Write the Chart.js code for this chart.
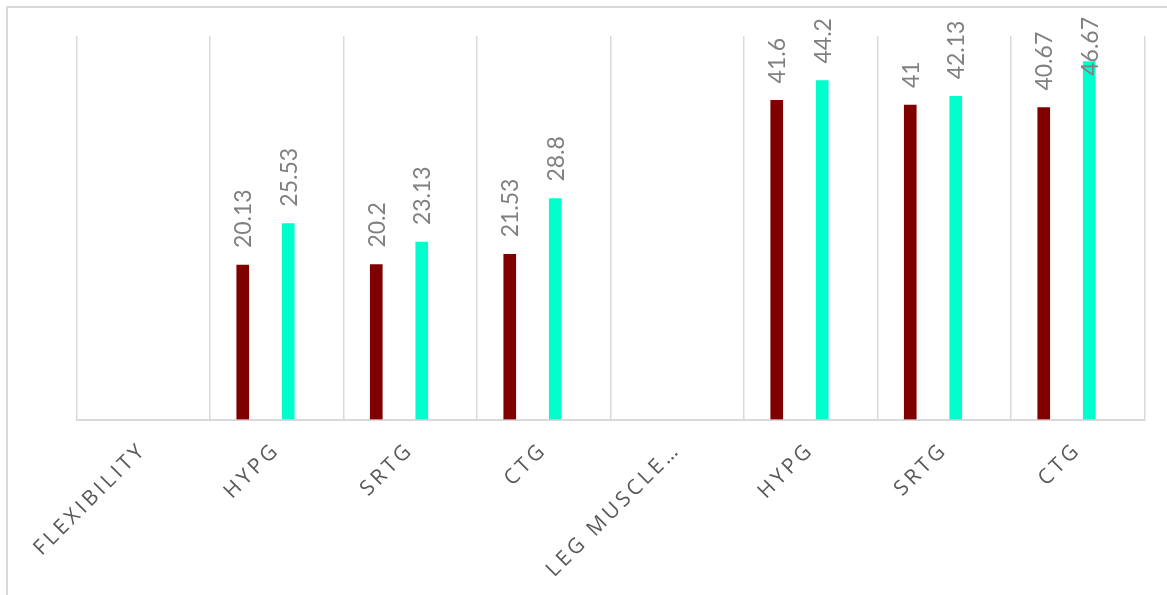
<!DOCTYPE html>
<html>
<head>
<meta charset="utf-8">
<script src="https://cdn.jsdelivr.net/npm/chart.js@4.4.0/dist/chart.umd.min.js"></script>
<style>
  html, body { margin: 0; padding: 0; background: #ffffff; }
  #wrap { width: 1167px; height: 595px; position: relative; }
</style>
</head>
<body>
<div id="wrap"><canvas id="c" width="1167" height="595"></canvas></div>
<script>
// Categories along the x axis (group headers followed by their groups)
const categories = ['FLEXIBILITY', 'HYPG', 'SRTG', 'CTG', 'LEG MUSCLE…', 'HYPG', 'SRTG', 'CTG'];
// Series values per category (null where a header has no bars)
const series1Values = [null, 20.13, 20.2, 21.53, null, 41.6, 41, 40.67];
const series2Values = [null, 25.53, 23.13, 28.8, null, 44.2, 42.13, 46.67];
// Value range of the (hidden) y axis
const yMin = 0;
const yMax = 50;

// Light frame around the chart (only top/left edges fall inside the canvas)
const chartFrame = {
  id: 'chartFrame',
  beforeDraw(chart) {
    const ctx = chart.ctx;
    ctx.save();
    ctx.strokeStyle = '#d9d9d9';
    ctx.lineWidth = 2;
    ctx.strokeRect(7, 7, 1400, 900);
    ctx.restore();
    // spaced-out capitals for the category labels
    ctx.letterSpacing = '3.5px';
  },
  beforeDatasetsDraw(chart) {
    chart.ctx.letterSpacing = '0px';
  }
};

// Vertical value labels above each bar
const valueLabels = {
  id: 'valueLabels',
  afterDatasetsDraw(chart) {
    const ctx = chart.ctx;
    ctx.save();
    ctx.letterSpacing = '0px';
    ctx.font = '23px Lato';
    ctx.fillStyle = '#808080';
    ctx.textAlign = 'left';
    ctx.textBaseline = 'middle';
    chart.data.datasets.forEach((ds, di) => {
      chart.getDatasetMeta(di).data.forEach((bar, i) => {
        const v = ds.data[i];
        if (v === null || v === undefined) return;
        const text = String(v);
        const w = ctx.measureText(text).width;
        let start = bar.y - 17;
        if (start - w < 17) start = 17 + w;
        ctx.save();
        ctx.translate(bar.x + 1, start);
        ctx.rotate(-Math.PI / 2);
        ctx.fillText(text, 0, 0);
        ctx.restore();
      });
    });
    ctx.restore();
  }
};

new Chart(document.getElementById('c'), {
  type: 'bar',
  data: {
    labels: categories,
    datasets: [
      {
        label: 'Series 1',
        data: series1Values,
        backgroundColor: '#800000',
        barThickness: 68,
        maxBarThickness: 12
      },
      {
        label: 'Series 2',
        data: series2Values,
        backgroundColor: '#00FFCC',
        barThickness: 23,
        maxBarThickness: 12
      }
    ]
  },
  options: {
    responsive: false,
    animation: false,
    layout: { padding: { top: 36, left: 76.5, right: 22.5, bottom: 0 } },
    plugins: {
      legend: { display: false },
      tooltip: { enabled: false }
    },
    scales: {
      x: {
        offset: true,
        grid: {
          offset: true,
          color: '#d9d9d9',
          lineWidth: 1.5,
          drawTicks: false
        },
        border: { color: '#d9d9d9', width: 2 },
        ticks: {
          autoSkip: false,
          minRotation: 45,
          maxRotation: 45,
          padding: 18,
          color: '#595959',
          font: { family: 'Open Sans', size: 21 }
        },
        afterFit(scale) {
          scale.height = 175.5;
          scale.paddingLeft = 0;
          scale.paddingRight = 0;
        }
      },
      y: {
        display: false,
        min: yMin,
        max: yMax
      }
    }
  },
  plugins: [chartFrame, valueLabels]
});
</script>
</body>
</html>
